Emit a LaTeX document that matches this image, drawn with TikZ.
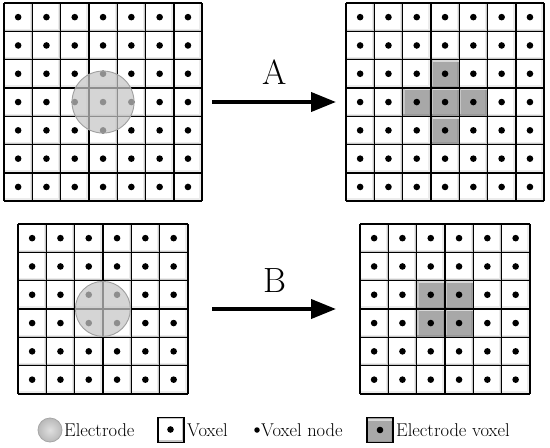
\documentclass[tikz,border=0pt]{standalone}
\usepackage{fontspec}
\usetikzlibrary{arrows.meta}
\begin{document}
\begin{tikzpicture}[x=1pt,y=-1pt,
  gridline/.style={line width=1.4pt,black},
  nodedot/.style={circle,fill=black,inner sep=0pt,minimum size=6.6pt},
  electrode/.style={circle,draw=gray!75,line width=0.9pt,fill=gray!45,fill opacity=0.72,inner sep=0pt},
  bigarrow/.style={line width=4pt,-{Triangle[length=25pt,width=19pt]}},
  steplabel/.style={font=\fontsize{35}{38}\selectfont},
  legendtext/.style={anchor=west,inner sep=0pt,font=\fontsize{18.5}{21}\selectfont},
  voxel/.pic={
    \fill[gray!45] (0,0) rectangle (28.3,28.3);
    \fill[gray!15] (0,0) rectangle (27,27);
    \fill[white] (0,0) rectangle (25.6,25.6);
    \fill[black] (14.15,14.15) circle (3.3);
  },
  evoxel/.pic={
    \fill[gray!80] (0,0) rectangle (28.3,28.3);
    \fill[gray!68] (0,0) rectangle (26,26);
    \fill[gray!30] (0,0) rectangle (28.3,2.5);
    \fill[gray!45] (0,0) rectangle (2,26);
    \fill[black] (14.15,14.15) circle (3.3);
  }
]
\useasboundingbox (0,0) rectangle (550,448);
\fill[white] (0,0) rectangle (550,448);

% ---------- grids ----------
% top left 7x7
\foreach \c in {0,...,6} \foreach \r in {0,...,6}
  \pic at ({4+\c*28.3},{3+\r*28.3}) {voxel};
% top right 7x7
\foreach \c in {0,...,6} \foreach \r in {0,...,6}
  \pic at ({346+\c*28.3},{3+\r*28.3}) {voxel};
\foreach \c/\r in {3/2,2/3,3/3,4/3,3/4}
  \pic at ({346+\c*28.3},{3+\r*28.3}) {evoxel};
% bottom left 6x6
\foreach \c in {0,...,5} \foreach \r in {0,...,5}
  \pic at ({18+\c*28.3},{224+\r*28.3}) {voxel};
% bottom right 6x6
\foreach \c in {0,...,5} \foreach \r in {0,...,5}
  \pic at ({360+\c*28.3},{224+\r*28.3}) {voxel};
\foreach \c/\r in {2/2,3/2,2/3,3/3}
  \pic at ({360+\c*28.3},{224+\r*28.3}) {evoxel};

% grid lines
\foreach \x/\y/\n in {4/3/7,346/3/7,18/224/6,360/224/6}{
  \foreach \i in {0,...,\n}{
    \draw[gridline] ({\x+\i*28.3},\y) -- ({\x+\i*28.3},{\y+\n*28.3});
    \draw[gridline] (\x,{\y+\i*28.3}) -- ({\x+\n*28.3},{\y+\i*28.3});
  }
}

% electrodes
\node[electrode,minimum size=62pt] (elA) at (103.05,102.05) {};
\node[electrode,minimum size=55pt] (elB) at (102.9,308.9) {};

% arrows
\coordinate (aS) at (212,102);
\coordinate (aE) at (336,102);
\coordinate (bS) at (212,309);
\coordinate (bE) at (336,309);
\draw[bigarrow] (aS) -- (aE);
\draw[bigarrow] (bS) -- (bE);
\node[steplabel] (labA) at (275,72) {A};
\node[steplabel] (labB) at (275,281) {B};

% legend
\node[circle,draw=gray!70,line width=0.8pt,inner sep=0pt,minimum size=24pt,
      inner color=gray!25,outer color=gray!55] (legE) at (50,430) {};
\node[legendtext] (legEt) at (64,430) {Electrode};
\draw[line width=1.2pt,fill=gray!45] (158,417.5) rectangle (184,442.5);
\fill[white] (159,418.5) rectangle (181.5,440);
\node[nodedot] (legV) at (170.5,429.5) {};
\node[legendtext] (legVt) at (187,430) {Voxel};
\node[nodedot,minimum size=5.5pt] (legN) at (257,430) {};
\node[legendtext] (legNt) at (261,430) {Voxel node};
\draw[line width=1.2pt,fill=gray!80] (367,417.5) rectangle (393,442.5);
\fill[gray!68] (368,418.5) rectangle (391,440.5);
\fill[gray!30] (368,418.5) rectangle (392,420.5);
\node[nodedot] (legEV) at (380,430) {};
\node[legendtext] (legEVt) at (396,430) {Electrode voxel};
\end{tikzpicture}
\end{document}
